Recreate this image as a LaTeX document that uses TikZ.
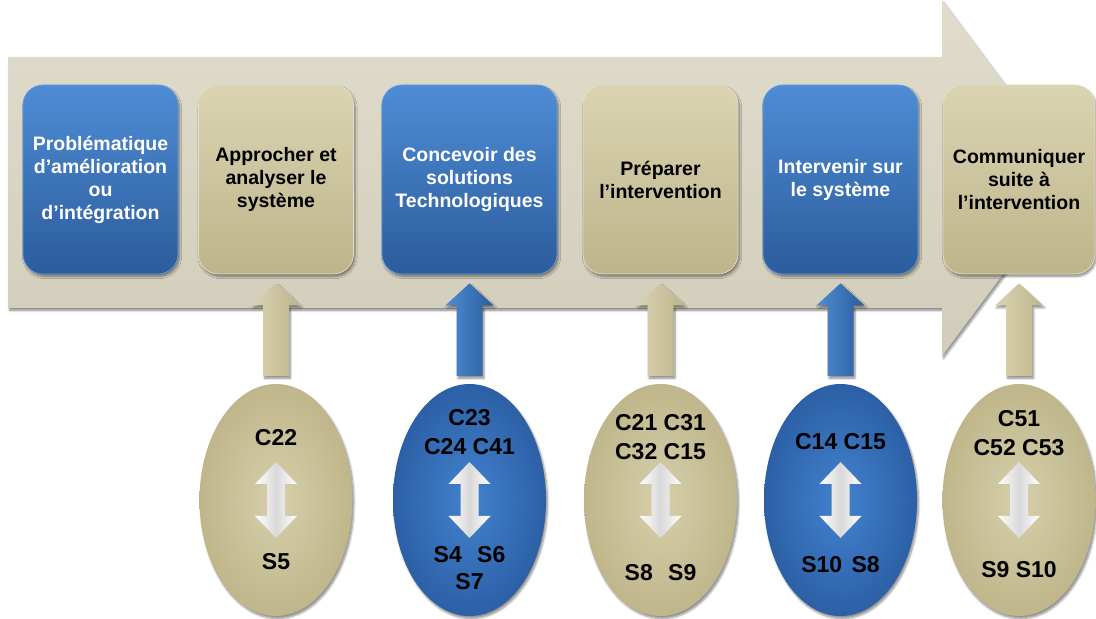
\documentclass[tikz,border=0pt]{standalone}
\usepackage{fontspec}
\setmainfont{Liberation Sans}
\usetikzlibrary{shapes.geometric,calc,shadows.blur}
\definecolor{bluetop}{HTML}{4E8CD5}
\definecolor{bluebot}{HTML}{2C5C9C}
\definecolor{blueedge}{HTML}{5F9BDF}
\definecolor{tantop}{HTML}{DAD4B2}
\definecolor{tanbot}{HTML}{BDB48A}
\definecolor{tanedge}{HTML}{E4DFC4}
\definecolor{bigarrowc}{HTML}{DDD8C5}
\definecolor{ovalblin}{HTML}{4382CF}
\definecolor{ovalblout}{HTML}{2C60A6}
\definecolor{ovaltanin}{HTML}{D6CFAA}
\definecolor{ovaltanout}{HTML}{BFB68B}
\tikzset{
  shd/.style={blur shadow={shadow xshift=1.5pt, shadow yshift=-2.5pt, shadow blur steps=6, shadow opacity=45}},
  stage/.style={shd, rounded corners=20pt, minimum width=155pt, minimum height=189pt,
    inner sep=2pt, align=center, font=\bfseries\fontsize{19.5}{23}\selectfont, line width=0.7pt},
  bluestage/.style={stage, top color=bluetop, bottom color=bluebot, draw=blueedge, text=white},
  tanstage/.style={stage, top color=tantop, bottom color=tanbot, draw=tanedge, text=black},
  oval/.style={shd, ellipse, minimum width=153pt, minimum height=232pt, inner sep=0pt},
  blueoval/.style={oval, inner color=ovalblin, outer color=ovalblout},
  tanoval/.style={oval, inner color=ovaltanin, outer color=ovaltanout},
  ctext/.style={font=\bfseries\fontsize{23}{29}\selectfont, align=center, inner sep=0pt, text=black},
  bluearrow/.style={shd, left color=bluetop, right color=bluebot},
  tanarrow/.style={shd, left color=tantop, right color=tanbot},
  whitearrow/.style={left color=white, right color=white, middle color=gray!30},
}
\newcommand\upblock[3]{%
  \path[#3] ($(#1.north)+(-13,8)$) -- ($(#2.south)+(-13,-31)$) -- ($(#2.south)+(-24,-31)$)
    -- ($(#2.south)+(0,-9)$) -- ($(#2.south)+(24,-31)$) -- ($(#2.south)+(13,-31)$)
    -- ($(#1.north)+(13,8)$) -- cycle;}
\newcommand\dblarrow[1]{%
  \begin{scope}[shift={(#1.center)}]
    \path[whitearrow] (0,38) -- (21,16) -- (9,16) -- (9,-16) -- (21,-16) -- (0,-38)
      -- (-21,-16) -- (-9,-16) -- (-9,16) -- (-21,16) -- cycle;
  \end{scope}}
\begin{document}
\begin{tikzpicture}[x=1pt,y=1pt]
\useasboundingbox (0,0) rectangle (1096,619);
% big process arrow
\path[shd, top color=bigarrowc!90!white, bottom color=bigarrowc!95!black]
  (8,562) -- (942,562) -- (942,619) -- (1075,441) -- (942,263) -- (942,311) -- (8,311) -- cycle;
% stages
\node[bluestage] (b1) at (100.5,439.5) {Problématique\\d’amélioration\\ou\\d’intégration};
\node[tanstage]  (b2) at (276,439.5) {Approcher et\\analyser le\\système};
\node[bluestage, minimum width=175pt] (b3) at (469.5,439.5) {Concevoir des\\solutions\\Technologiques};
\node[tanstage]  (b4) at (660.5,439.5) {Préparer\\l’intervention};
\node[bluestage] (b5) at (840.5,439.5) {Intervenir sur\\le système};
\node[tanstage, minimum width=152pt] (b6) at (1019,439.5) {Communiquer\\suite à\\l’intervention};
% competence ovals
\node[tanoval]  (e2) at (b2 |- 0,119) {};
\node[blueoval] (e3) at (b3 |- 0,119) {};
\node[tanoval]  (e4) at (b4 |- 0,119) {};
\node[blueoval] (e5) at (b5 |- 0,119) {};
\node[tanoval]  (e6) at (b6 |- 0,119) {};
% up arrows
\upblock{e2}{b2}{tanarrow}
\upblock{e3}{b3}{bluearrow}
\upblock{e4}{b4}{tanarrow}
\upblock{e5}{b5}{bluearrow}
\upblock{e6}{b6}{tanarrow}
% double arrows
\dblarrow{e2}\dblarrow{e3}\dblarrow{e4}\dblarrow{e5}\dblarrow{e6}
% oval texts
\node[ctext] (c2) at ($(e2)+(0,62)$) {C22};
\node[ctext] (s2) at ($(e2)+(0,-62)$) {S5};
\node[ctext] (c3) at ($(e3)+(0,68)$) {C23\\C24 C41};
\node[ctext, font=\bfseries\fontsize{23}{27}\selectfont] (s3) at ($(e3)+(0,-68.5)$) {S4\hspace{9pt} S6\\S7};
\node[ctext] (c4) at ($(e4)+(0,62.5)$) {C21 C31\\C32 C15};
\node[ctext] (s4) at ($(e4)+(0,-73)$) {S8\hspace{9pt} S9};
\node[ctext] (c5) at ($(e5)+(0,58)$) {C14 C15};
\node[ctext] (s5) at ($(e5)+(0,-65)$) {S10\hspace{3pt} S8};
\node[ctext] (c6) at ($(e6)+(0,67)$) {C51\\C52 C53};
\node[ctext] (s6) at ($(e6)+(0,-70)$) {S9 S10};
\end{tikzpicture}
\end{document}
